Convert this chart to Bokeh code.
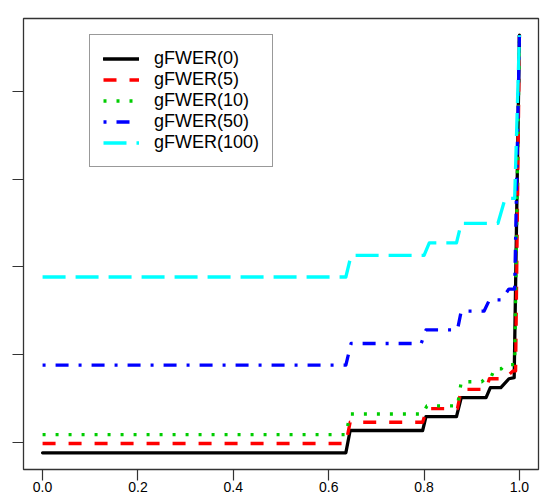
from bokeh.plotting import figure
from bokeh.models import Range1d, FixedTicker, Legend, LegendItem
from bokeh.embed import file_html
from bokeh.resources import INLINE

# ---- data ----
x_ticks = [0.0, 0.2, 0.4, 0.6, 0.8, 1.0]
x_tick_labels = ["0.0", "0.2", "0.4", "0.6", "0.8", "1.0"]
y_ticks = [0, 5, 10, 15, 20]

series_names = ["gFWER(0)", "gFWER(5)", "gFWER(10)", "gFWER(50)", "gFWER(100)"]

g0_x = [0.0, 0.636, 0.645, 0.797, 0.804, 0.868, 0.878, 0.930, 0.939, 0.961, 0.978, 0.989, 1.0]
g0_y = [-0.60, -0.60, 0.67, 0.67, 1.46, 1.46, 2.54, 2.54, 3.11, 3.11, 3.62, 3.68, 23.2]

g5_x = [0.0, 0.636, 0.645, 0.797, 0.806, 0.870, 0.878, 0.930, 0.937, 0.968, 0.987, 0.992, 1.0]
g5_y = [-0.07, -0.07, 1.14, 1.14, 1.92, 1.92, 3.01, 3.01, 3.62, 3.62, 4.07, 4.07, 23.2]

g10_x = [0.0, 0.636, 0.645, 0.797, 0.806, 0.870, 0.878, 0.921, 0.930, 0.940, 0.948, 0.962, 0.970, 0.990, 1.0]
g10_y = [0.44, 0.44, 1.61, 1.61, 2.07, 2.07, 3.45, 3.45, 3.68, 3.68, 4.19, 4.19, 4.42, 4.42, 23.2]

g50_x = [0.0, 0.636, 0.647, 0.794, 0.804, 0.870, 0.878, 0.926, 0.937, 0.961, 0.978, 0.990, 1.0]
g50_y = [4.40, 4.40, 5.63, 5.63, 6.40, 6.40, 7.48, 7.48, 8.11, 8.11, 8.73, 8.73, 23.2]

g100_x = [0.0, 0.636, 0.647, 0.800, 0.811, 0.868, 0.878, 0.955, 0.970, 0.990, 1.0]
g100_y = [9.42, 9.42, 10.65, 10.65, 11.36, 11.36, 12.48, 12.48, 13.90, 13.90, 23.2]

series_x = [g0_x, g5_x, g10_x, g50_x, g100_x]
series_y = [g0_y, g5_y, g10_y, g50_y, g100_y]

# ---- styles ----
colors = ["#000000", "#FF0000", "#00CD00", "#0000FF", "#00FFFF"]
dashes = ["solid", "13 13", "3 10", "3 10 13 10", "23 10"]
caps = ["round", "butt", "butt", "butt", "butt"]
LW = 3.3

all_y = [v for s in series_y for v in s]
ymin, ymax = min(all_y), max(all_y)
ypad = 0.04 * (ymax - ymin)

p = figure(
    frame_width=515, frame_height=451,
    x_range=Range1d(-0.04, 1.04),
    y_range=Range1d(ymin - ypad, ymax + ypad),
    output_backend="svg", toolbar_location=None,
    min_border_left=23, min_border_right=6, min_border_top=18, min_border_bottom=0,
)
p.background_fill_color = "white"
p.border_fill_color = "white"
p.outline_line_color = "#333333"
p.outline_line_width = 1.3
p.xgrid.grid_line_color = None
p.ygrid.grid_line_color = None

for ax in (p.xaxis[0], p.yaxis[0]):
    ax.axis_line_color = None
    ax.major_tick_out = 11
    ax.major_tick_in = 0
    ax.minor_tick_line_color = None
    ax.major_tick_line_color = "#333333"
    ax.major_tick_line_width = 1.2
    ax.major_label_text_font = "Liberation Sans"
    ax.major_label_text_color = "#000000"

p.xaxis[0].ticker = FixedTicker(ticks=x_ticks)
p.xaxis[0].major_label_overrides = {t: l for t, l in zip(x_ticks, x_tick_labels)}
p.xaxis[0].major_label_text_font_size = "14px"
p.xaxis[0].major_label_standoff = 1

# y tick labels lie outside the visible area in the reference: show none
p.yaxis[0].ticker = FixedTicker(ticks=y_ticks)
p.yaxis[0].major_label_overrides = {t: "" for t in y_ticks}
p.yaxis[0].major_label_standoff = 0

items = []
for name, xs, ys, c, d, cap in zip(series_names, series_x, series_y, colors, dashes, caps):
    r = p.line(xs, ys, line_color=c, line_width=LW, line_dash=d,
               line_cap=cap, line_join="round")
    items.append(LegendItem(label=name, renderers=[r]))

legend = Legend(
    items=items,
    location=(66, 302),
    padding=13, spacing=0, margin=0,
    glyph_width=36, glyph_height=21, label_height=21,
    label_standoff=15,
    label_text_font="Liberation Sans", label_text_font_size="18px",
    label_text_color="#000000",
    border_line_color="#333333", border_line_width=1.2,
    background_fill_color="white", background_fill_alpha=1.0,
)
p.add_layout(legend, "center")

open("out.html", "w").write(file_html(p, INLINE))
